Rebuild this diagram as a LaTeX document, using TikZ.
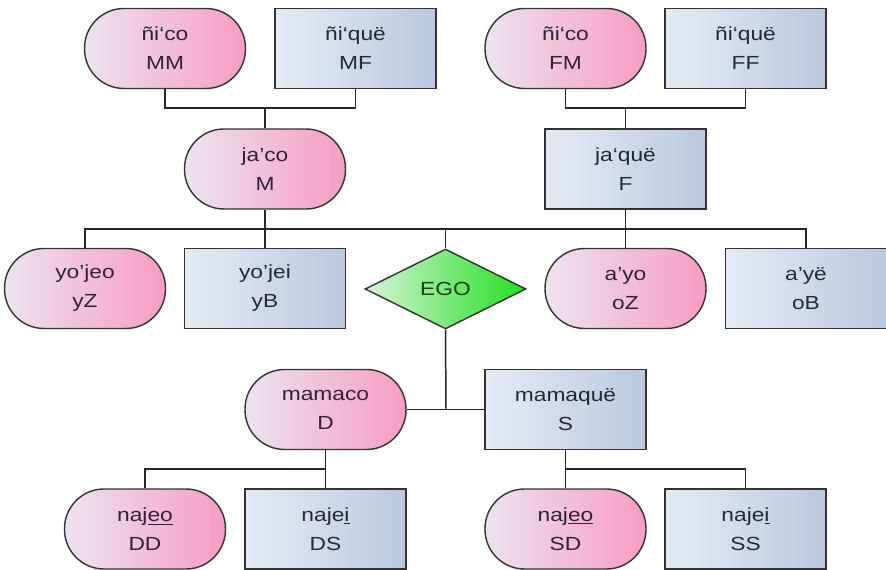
\documentclass[tikz,border=0pt]{standalone}
\usepackage{fontspec}
\setmainfont{Liberation Sans}[FakeStretch=1.2]
\usetikzlibrary{shapes.geometric}

\definecolor{edge}{HTML}{333333}
\definecolor{pinkL}{HTML}{ECE3EF}
\definecolor{pinkR}{HTML}{F79CC3}
\definecolor{blueL}{HTML}{E5EBF4}
\definecolor{blueR}{HTML}{BAC8E0}
\definecolor{greenL}{HTML}{D6F4D6}
\definecolor{greenR}{HTML}{22DE22}
\definecolor{txtpink}{HTML}{30223A}
\definecolor{txtblue}{HTML}{232A35}
\definecolor{txtgreen}{HTML}{1B3F1B}

\tikzset{
  kin/.style={draw=edge, line width=0.8pt, align=center, inner sep=0pt,
    minimum width=3.22cm, minimum height=1.6cm,
    font=\fontsize{10.8}{16.6}\selectfont},
  female/.style={kin, rectangle, rounded corners=0.79cm,
    left color=pinkL, right color=pinkR, text=txtpink},
  male/.style={kin, rectangle, left color=blueL, right color=blueR, text=txtblue},
  egonode/.style={kin, diamond, aspect=2, minimum width=3.22cm, minimum height=1.6cm,
    left color=greenL, right color=greenR, text=txtgreen},
  link/.style={draw=black!85, line width=0.85pt}
}

\begin{document}
\begin{tikzpicture}[x=0.02cm, y=-0.02cm]
  \useasboundingbox (0,0) rectangle (886,570);

  % grandparents
  \node[female] (mm) at (165,48.5)   {ñi‘co\\MM};
  \node[male]   (mf) at (355.5,48.5) {ñi‘quë\\MF};
  \node[female] (fm) at (565.5,48.5) {ñi‘co\\FM};
  \node[male]   (ff) at (745.5,48.5) {ñi‘quë\\FF};

  % parents
  \node[female] (mo) at (265,169)   {ja'co\\M};
  \node[male]   (fa) at (625.5,169) {ja‘quë\\F};

  % siblings and ego
  \node[female]  (yz)  at (85,288.5)    {yo'jeo\\yZ};
  \node[male]    (yb)  at (265,288.5)   {yo'jei\\yB};
  \node[egonode] (ego) at (445.5,289)   {EGO};
  \node[female]  (oz)  at (625.5,288.5) {a'yo\\oZ};
  \node[male]    (ob)  at (806,288.5)   {a'yë\\oB};

  % children
  \node[female] (da) at (325.5,409.5) {mamaco\\D};
  \node[male]   (so) at (565.5,409.5) {mamaquë\\S};

  % grandchildren
  \node[female] (dd) at (145,529)   {naj\underline{eo}\\DD};
  \node[male]   (ds) at (325.5,529) {naje\underline{i}\\DS};
  \node[female] (sd) at (565.5,529) {naj\underline{eo}\\SD};
  \node[male]   (ss) at (745.5,529) {naje\underline{i}\\SS};

  % junction points
  \coordinate (jm) at (265,108);
  \coordinate (jf) at (625.5,108);
  \coordinate (bl) at (85,229);
  \coordinate (br) at (806,229);
  \coordinate (jc) at (446,409.5);
  \coordinate (jd) at (325.5,469);
  \coordinate (js) at (565.5,469);

  % mother's parents
  \draw[link] (mm.south) |- (jm) -| (mf.south);
  \draw[link] (jm) -- (mo.north);
  % father's parents
  \draw[link] (fm.south) |- (jf) -| (ff.south);
  \draw[link] (jf) -- (fa.north);

  % sibling bus
  \draw[link] (yz.north) -- (bl) -- (br) -- (ob.north);
  \draw[link] (mo.south) -- (mo.south |- bl);
  \draw[link] (fa.south) -- (fa.south |- bl);
  \draw[link] (yb.north) -- (yb.north |- bl);
  \draw[link] (oz.north) -- (oz.north |- bl);
  \draw[link] (ego.north) -- (ego.north |- bl);

  % ego's children
  \draw[link] (ego.south) -- (jc);
  \draw[link] (da.east) -- (so.west);

  % grandchildren through the daughter
  \draw[link] (da.south) -- (ds.north);
  \draw[link] (jd) -| (dd.north);
  % grandchildren through the son
  \draw[link] (so.south) -- (sd.north);
  \draw[link] (js) -| (ss.north);
\end{tikzpicture}
\end{document}
